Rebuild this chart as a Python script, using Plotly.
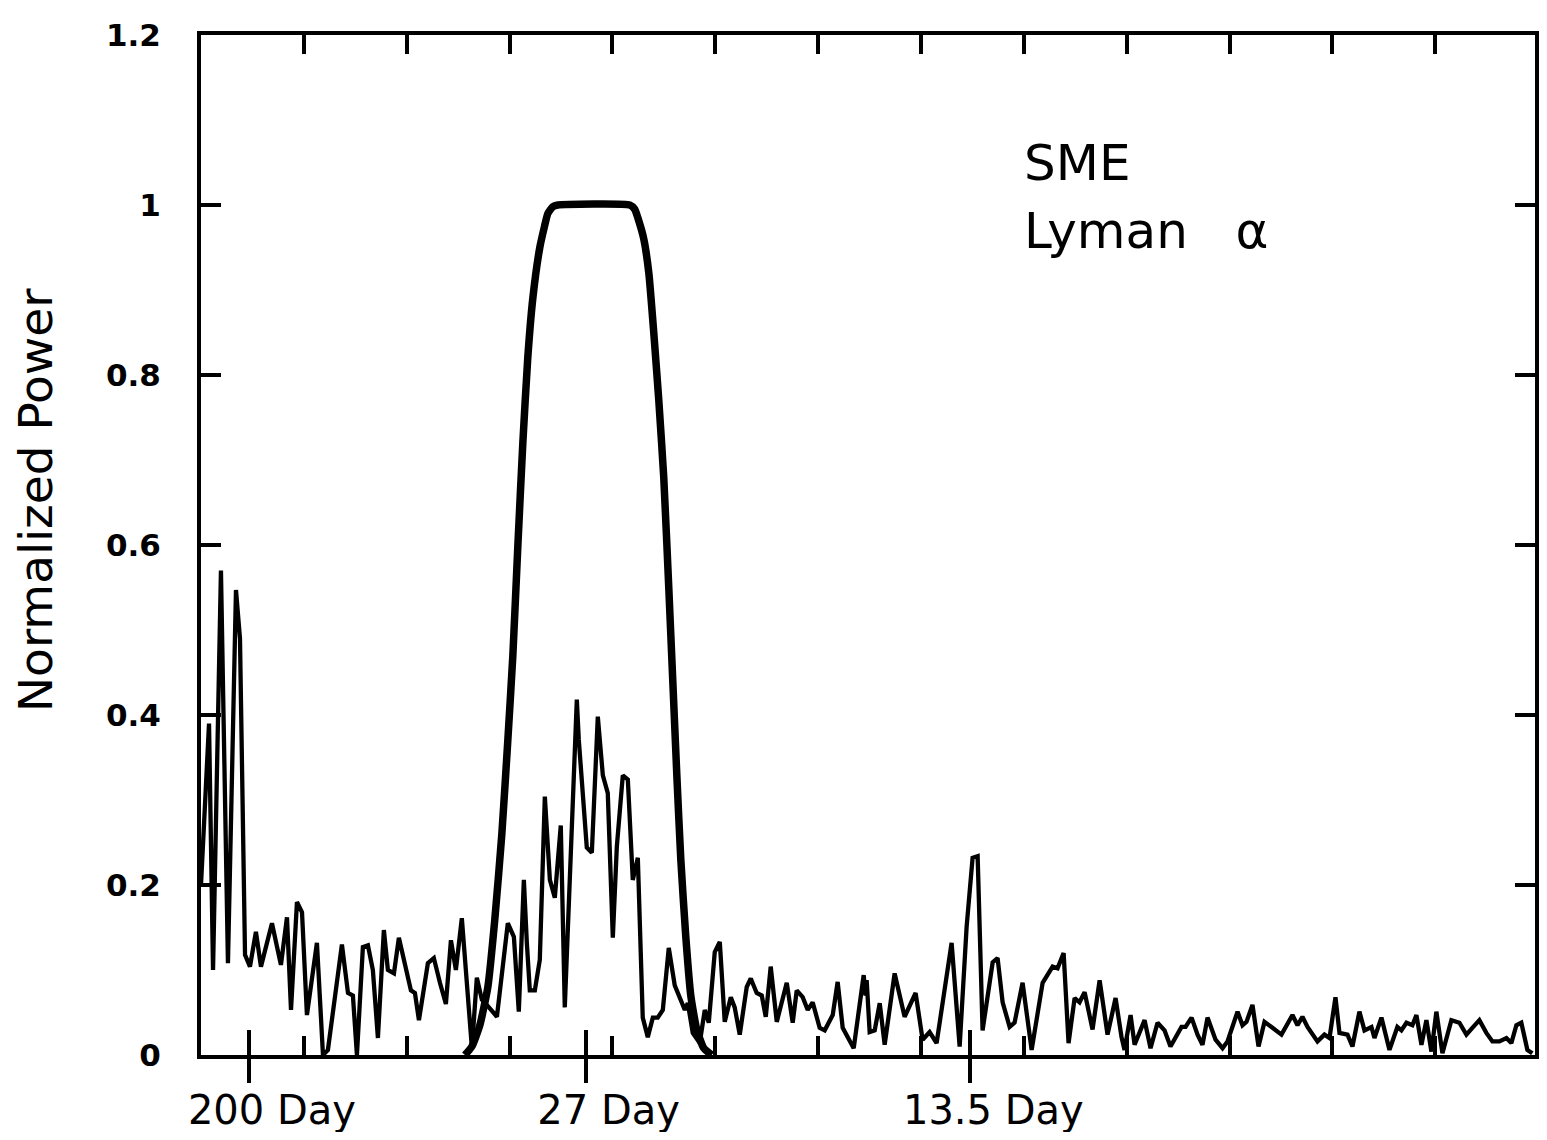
import plotly.graph_objects as go

# Frequency in units of 1e-3 cycles/day, normalized power
freq_thin = [0.00, 0.39, 0.78, 1.17, 1.65, 1.94, 2.62, 3.40, 3.79, 4.28, 4.76, 5.34, 5.83, 6.90, 7.77,
             8.36, 8.75, 9.33, 9.82, 10.30, 11.27, 11.86, 12.34, 13.70, 14.29, 14.77, 15.16, 15.74,
             16.23, 16.71, 17.20, 17.78, 18.17, 18.76, 19.24, 20.41, 20.80, 21.19, 22.06, 22.64,
             23.23, 23.81, 24.30, 24.78, 25.36, 26.34, 26.82, 27.31, 27.79, 28.77, 29.83, 30.42,
             30.90, 31.39, 31.68, 31.97, 32.46, 32.94, 33.43, 33.92, 34.40, 34.98, 35.37, 36.15,
             36.54, 36.73, 37.51, 38.00, 38.58, 39.07, 39.55, 40.04, 40.43, 41.01, 41.50, 41.98,
             42.47, 42.95, 43.44, 43.93, 44.41, 44.90, 45.48, 46.06, 47.04, 47.33, 47.81, 48.49,
             48.98, 49.37, 49.95, 50.44, 50.92, 51.51, 51.89, 52.38, 53.06, 53.45, 54.03, 54.52,
             54.91, 55.39, 55.98, 56.95, 57.53, 57.92, 58.50, 58.99, 59.47, 60.15, 60.64, 61.42,
             61.90, 62.39, 63.46, 64.43, 64.62, 64.72, 65.01, 65.50, 65.99, 66.47, 67.44, 68.41,
             69.48, 70.16, 70.84, 71.52, 72.98, 73.76, 74.44, 75.02, 75.51, 75.99, 76.97, 77.45,
             77.94, 78.62, 79.10, 79.88, 80.76, 81.83, 82.80, 83.28, 83.87, 84.35, 84.94, 85.42,
             85.91, 86.68, 87.37, 88.14, 88.92, 89.50, 89.79, 90.38, 90.77, 91.74, 92.32, 93.00,
             93.68, 94.26, 95.33, 95.72, 96.31, 96.89, 97.37, 97.86, 98.64, 99.32, 99.80, 100.78,
             101.26, 101.65, 102.23, 102.82, 103.40, 104.08, 105.05, 106.12, 106.61, 107.09,
             107.58, 108.55, 109.23, 109.72, 110.30, 110.69, 111.47, 111.95, 112.63, 113.12,
             113.80, 114.09, 114.77, 115.55, 116.32, 116.71, 117.20, 117.78, 118.17, 118.66,
             119.14, 119.63, 120.11, 120.70, 121.57, 122.35, 123.03, 123.61, 124.29, 124.97,
             125.56, 126.24, 126.92, 127.40, 127.89, 128.37, 128.67, 128.96, 129.44]
power_thin = [0.20, 0.29, 0.39, 0.10, 0.42, 0.57, 0.108, 0.547, 0.49, 0.118, 0.104, 0.145, 0.104, 0.155, 0.106,
              0.162, 0.053, 0.18, 0.168, 0.047, 0.132, 0.0, 0.006, 0.13, 0.073, 0.07, 0.0, 0.127,
              0.129, 0.10, 0.02, 0.147, 0.10, 0.096, 0.138, 0.076, 0.073, 0.041, 0.108, 0.114,
              0.085, 0.06, 0.135, 0.10, 0.161, 0.008, 0.091, 0.065, 0.059, 0.045, 0.155, 0.139,
              0.051, 0.206, 0.132, 0.076, 0.076, 0.112, 0.304, 0.206, 0.185, 0.27, 0.056, 0.288,
              0.418, 0.371, 0.244, 0.238, 0.398, 0.329, 0.308, 0.138, 0.245, 0.329, 0.324, 0.206,
              0.232, 0.044, 0.021, 0.044, 0.044, 0.053, 0.126, 0.082, 0.053, 0.061, 0.026, 0.014,
              0.053, 0.038, 0.121, 0.133, 0.039, 0.068, 0.056, 0.024, 0.08, 0.09, 0.073, 0.07,
              0.045, 0.104, 0.039, 0.085, 0.038, 0.076, 0.068, 0.053, 0.062, 0.032, 0.029, 0.047,
              0.086, 0.032, 0.008, 0.094, 0.07, 0.088, 0.027, 0.029, 0.061, 0.012, 0.096, 0.045,
              0.073, 0.018, 0.027, 0.014, 0.132, 0.01, 0.151, 0.232, 0.234, 0.029, 0.109, 0.114,
              0.062, 0.033, 0.038, 0.085, 0.006, 0.085, 0.104, 0.102, 0.12, 0.014, 0.067, 0.062,
              0.074, 0.03, 0.088, 0.024, 0.067, 0.021, 0.006, 0.047, 0.012, 0.041, 0.008, 0.038,
              0.029, 0.01, 0.033, 0.033, 0.044, 0.024, 0.012, 0.044, 0.018, 0.008, 0.016, 0.051,
              0.035, 0.039, 0.059, 0.01, 0.039, 0.033, 0.024, 0.047, 0.035, 0.045,
              0.033, 0.016, 0.024, 0.02, 0.068, 0.026, 0.024, 0.01, 0.051, 0.029,
              0.033, 0.02, 0.044, 0.006, 0.033, 0.029, 0.038, 0.035, 0.047, 0.012,
              0.041, 0.004, 0.051, 0.002, 0.041, 0.038, 0.024, 0.032, 0.041, 0.026,
              0.016, 0.016, 0.02, 0.014, 0.035, 0.038, 0.024, 0.006, 0.002]

freq_filter = [25.66, 26.34, 27.11, 27.89, 28.57, 29.25, 29.83, 30.32, 30.81, 31.29, 31.77, 32.26,
               32.94, 33.40, 33.72, 34.20, 34.69, 41.69, 42.17, 42.47, 43.05, 43.54, 44.02, 44.51,
               44.99, 45.48, 45.87, 46.26, 46.65, 47.13, 47.62, 48.20, 48.88, 49.66]
power_filter = [0.0, 0.01, 0.035, 0.08, 0.16, 0.26, 0.37, 0.47, 0.60, 0.72, 0.82, 0.89,
                0.95, 0.975, 0.99, 0.998, 1.0, 1.0, 0.995, 0.985, 0.96, 0.92, 0.85, 0.77,
                0.68, 0.55, 0.44, 0.33, 0.23, 0.14, 0.07, 0.03, 0.008, 0.0]

x_range = [0, 129.7]
y_range = [0, 1.2]
x_minor_ticks = [10, 20, 30, 40, 50, 60, 70, 80, 90, 100, 110, 120]
period_tick_pos = [4.66, 37.4, 74.8]
period_tick_text = ["200 Day", "27 Day", "13.5 Day"]
y_tick_vals = [0, 0.2, 0.4, 0.6, 0.8, 1.0, 1.2]
y_tick_text = ["0", "0.2", "0.4", "0.6", "0.8", "1", "1.2"]

fig = go.Figure()
fig.add_trace(go.Scatter(x=freq_filter, y=power_filter, mode="lines",
                         line=dict(color="black", width=7.5, shape="spline", smoothing=0.5),
                         showlegend=False))
fig.add_trace(go.Scatter(x=freq_thin, y=power_thin, mode="lines",
                         line=dict(color="black", width=4.3), showlegend=False))
for ax in ("x2", "x3", "x4"):
    fig.add_trace(go.Scatter(x=[None], y=[None], xaxis=ax, showlegend=False))

label_font = dict(family="DejaVu Sans", size=40, color="black")
overlay = dict(overlaying="x", matches="x", anchor="y", side="bottom", automargin=False,
               showgrid=False, zeroline=False, showline=False, tickmode="array",
               tickvals=period_tick_pos)

# page body has an 8px margin: size the figure so the page fits the window
fig.update_layout(
    width=1531, height=1124,
    margin=dict(l=193, r=4, t=27, b=77),
    paper_bgcolor="white", plot_bgcolor="white",
    xaxis=dict(range=x_range, showgrid=False, zeroline=False, automargin=False,
               showline=True, linecolor="black", linewidth=4, mirror="ticks",
               tickmode="array", tickvals=x_minor_ticks, ticks="inside",
               ticklen=19, tickwidth=4, tickcolor="black", showticklabels=False),
    xaxis2=dict(**overlay, ticktext=period_tick_text, ticks="",
                tickfont=label_font, ticklabelshift=23, ticklabelstandoff=28),
    xaxis3=dict(**overlay, ticks="outside", ticklen=27, tickwidth=4, tickcolor="black",
                showticklabels=False),
    xaxis4=dict(**overlay, ticks="inside", ticklen=25, tickwidth=4, tickcolor="black",
                showticklabels=False),
    yaxis=dict(range=y_range, showgrid=False, zeroline=False, automargin=False,
               showline=True, linecolor="black", linewidth=4, mirror="ticks",
               tickmode="array", tickvals=y_tick_vals, ticktext=y_tick_text,
               ticks="inside", ticklen=20, tickwidth=4, tickcolor="black",
               tickfont=dict(family="DejaVu Sans", size=31, color="black", weight="bold"),
               ticklabelstandoff=30),
    annotations=[
        dict(text="Normalized Power", textangle=-90, xref="paper", yref="paper",
             x=-0.1245, y=0.544, xanchor="center", yanchor="middle", showarrow=False,
             font=dict(family="DejaVu Sans", size=47, color="black")),
        dict(text="SME", xref="paper", yref="paper", x=0.6155, y=0.8745,
             xanchor="left", yanchor="middle", showarrow=False,
             font=dict(family="DejaVu Sans", size=50, color="black")),
        dict(text="Lyman\u00a0\u00a0 α", xref="paper", yref="paper", x=0.6155, y=0.808,
             xanchor="left", yanchor="middle", showarrow=False,
             font=dict(family="DejaVu Sans", size=50, color="black")),
    ],
)

fig.write_html("out.html")
